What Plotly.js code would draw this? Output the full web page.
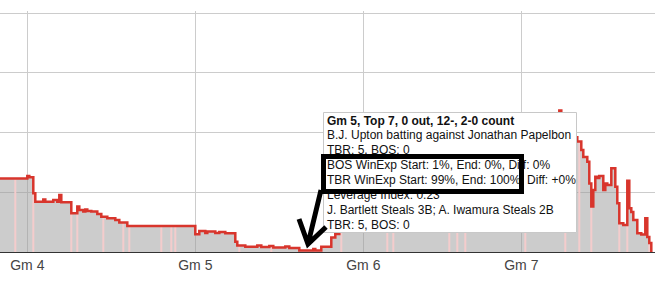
<!DOCTYPE html>
<html>
<head>
<meta charset="utf-8">
<script src="https://cdn.plot.ly/plotly-3.0.1.min.js"></script>
<style>
  html, body { margin: 0; padding: 0; background: #fff; }
  #chart { width: 655px; height: 284px; }
</style>
</head>
<body>
<div id="chart"></div>
<script>
// 2008 ALCS, Red Sox series win expectancy (%) by play, games 4-7
const gameLabels = ['Gm 4', 'Gm 5', 'Gm 6', 'Gm 7'];
const gameStartPlay = [250, 334, 418, 497];

const playNo = [
  230, 250, 251, 253, 254, 258, 259, 263, 265, 266, 267, 272, 275, 276, 278, 279, 280, 282,
  285, 287, 290, 294, 296, 300,
  334, 336, 339, 340, 344, 346, 349, 354, 355, 359, 365, 367, 371, 373, 379, 381, 386, 393,
  394, 397, 402, 404, 406, 408, 409, 411, 413, 415,
  421, 425, 429, 433, 437, 442, 447, 452, 457, 462, 468, 474, 480, 486, 491, 495,
  497, 500, 504, 508, 512, 516, 517, 520, 522, 525, 527, 528, 530, 531, 532, 533, 534, 535,
  536, 538, 539, 540, 542, 544, 545, 546, 548, 550, 551, 552, 553, 555, 557, 559, 560, 561, 562
];
const bosSeriesWinExp = [
  30.8, 31.8, 31.3, 24.6, 21.0, 22.0, 21.0, 21.8, 21.0, 23.8, 20.8, 16.2, 19.0, 17.6, 16.9, 17.8, 17.2, 16.9,
  15.9, 14.8, 14.1, 13.4, 12.3, 10.9,
  7.4, 8.8, 7.9, 8.6, 7.9, 8.4, 7.8, 4.3, 2.7, 2.2, 2.7, 2.1, 2.5, 1.9, 2.3, 1.7, 0.6, 1.3,
  0.6, 2.2, 6.1, 7.5, 12.0, 10.5, 17.0, 23.0, 28.0, 26.0,
  24.0, 29.0, 27.0, 31.0, 29.0, 35.0, 33.0, 38.0, 36.0, 41.0, 39.0, 43.0, 42.0, 45.0, 44.0, 47.0,
  45.0, 50.0, 48.0, 52.0, 50.0, 59.2, 53.0, 51.0, 48.0, 46.2, 42.7, 39.7, 37.8, 28.7, 19.0, 25.9, 31.5, 31.0,
  31.8, 25.9, 28.7, 28.0, 35.0, 27.3, 20.4, 12.0, 11.3, 29.8, 18.3, 16.7, 13.4, 7.8, 7.3, 14.1, 6.3, 3.8, 0
];

// plays on which a run scored (highlighted stripes)
const scoringPlays = [244, 253, 272, 275, 288, 298, 301, 317, 322, 324, 356, 372, 394, 397, 407,
  430, 433, 461, 465, 469, 499, 519, 526, 532, 546, 550, 561];

const tipLines = [
  '<b>Gm 5, Top 7, 0 out, 12-, 2-0 count</b>',
  'B.J. Upton batting against Jonathan Papelbon',
  'TBR: 5, BOS: 0',
  'BOS WinExp Start: 1%, End: 0%, Diff: 0%',
  'TBR WinExp Start: 99%, End: 100%, Diff: +0%',
  'Leverage Index: 0.23',
  'J. Bartlett Steals 3B; A. Iwamura Steals 2B',
  'TBR: 5, BOS: 0'
];

const FONT = 'Arial, "Liberation Sans", sans-serif';
const W = 655, H = 284, M_TOP = 11, M_BOT = 32;
const plotBottom = H - M_BOT, plotHeight = H - M_TOP - M_BOT;

// pixel -> paper helpers for the overlay decorations
const px = x => x / W;
const py = y => (plotBottom - y) / plotHeight;

// step lookup of the series at a given play
function valueAt(p) {
  let v = bosSeriesWinExp[0];
  for (let i = 0; i < playNo.length; i++) {
    if (playNo[i] <= p) v = bosSeriesWinExp[i]; else break;
  }
  return v;
}

const stripeX = [], stripeY = [];
scoringPlays.forEach(p => {
  stripeX.push(p, p, null);
  stripeY.push(0, valueAt(p), null);
});

const traces = [
  {
    x: playNo, y: bosSeriesWinExp, type: 'scatter', mode: 'lines',
    line: { shape: 'hv', width: 0, color: 'rgba(0,0,0,0)' },
    fill: 'tozeroy', fillcolor: 'rgba(153,153,153,0.5)', hoverinfo: 'skip'
  },
  {
    x: stripeX, y: stripeY, type: 'scatter', mode: 'lines',
    line: { color: '#f4cccc', width: 2 }, hoverinfo: 'skip'
  },
  {
    x: playNo, y: bosSeriesWinExp, type: 'scatter', mode: 'lines',
    line: { shape: 'hv', width: 2.5, color: '#d8352c' }, hoverinfo: 'skip'
  }
];

const annotations = tipLines.map((t, i) => ({
  xref: 'paper', yref: 'paper', x: px(327), y: py(120.5 + 14.9 * i),
  xanchor: 'left', yanchor: 'middle', showarrow: false,
  text: t, align: 'left', borderpad: 0, borderwidth: 0,
  font: { family: FONT, size: 12, color: '#111' }
}));

// heavy black frame around the two win-expectancy lines
annotations.push({
  xref: 'paper', yref: 'paper', x: px(422.5), y: py(174),
  xanchor: 'center', yanchor: 'middle', showarrow: false,
  text: ' ', width: 193, height: 30, borderpad: 0, borderwidth: 5,
  bordercolor: '#000', bgcolor: 'rgba(0,0,0,0)', font: { size: 10 }
});

const arrowPath =
  'M' + px(321) + ',' + py(190) + ' L' + px(308) + ',' + py(244) +
  ' M' + px(299) + ',' + py(219) + ' L' + px(308) + ',' + py(244) +
  ' L' + px(326) + ',' + py(227);

const shapes = [
  {
    type: 'rect', xref: 'paper', yref: 'paper', layer: 'above',
    x0: px(323.5), x1: px(576.5), y0: py(232.5), y1: py(112.5),
    fillcolor: '#ffffff', line: { color: '#c8c8c8', width: 1 }
  },
  {
    type: 'path', xref: 'paper', yref: 'paper', layer: 'above',
    path: arrowPath, line: { color: '#000', width: 5 }
  }
];

const layout = {
  width: W, height: H,
  margin: { l: 0, r: 0, t: M_TOP, b: M_BOT, pad: 0 },
  paper_bgcolor: '#fff', plot_bgcolor: '#fff',
  showlegend: false,
  xaxis: {
    range: [236.35, 563.85], tickvals: gameStartPlay, ticktext: gameLabels,
    showgrid: true, gridcolor: '#cccccc', gridwidth: 1, zeroline: false,
    showline: true, linecolor: '#333', linewidth: 1, ticks: '',
    tickfont: { family: FONT, size: 14, color: '#444' }
  },
  yaxis: {
    range: [0, 100 * plotHeight / 239], tickvals: [0, 25, 50, 75, 100],
    showgrid: true, gridcolor: '#cccccc', gridwidth: 1, zeroline: false,
    showticklabels: false, ticks: ''
  },
  shapes: shapes,
  annotations: annotations
};

Plotly.newPlot('chart', traces, layout, { staticPlot: true, displayModeBar: false });
</script>
</body>
</html>
